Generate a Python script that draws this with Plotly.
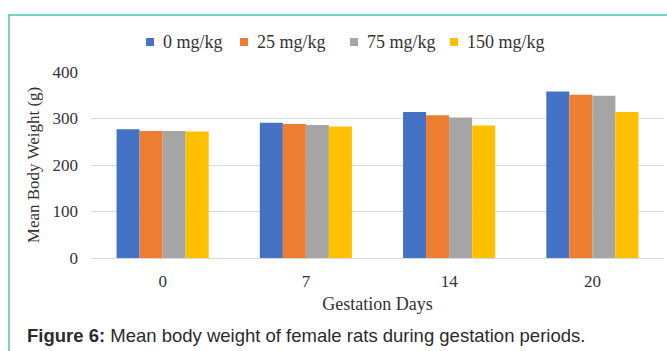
import plotly.graph_objects as go

# ---- data ----
days = ["0", "7", "14", "20"]
series_names = ["0 mg/kg", "25 mg/kg", "75 mg/kg", "150 mg/kg"]
dose_0 = [277, 291, 314, 358]
dose_25 = [273, 288, 307, 351]
dose_75 = [273, 286, 302, 349]
dose_150 = [272, 283, 285, 314]
y_ticks = [0, 100, 200, 300, 400]

colors = ["#4472C4", "#ED7D31", "#A5A5A5", "#FFC000"]
series_values = [dose_0, dose_25, dose_75, dose_150]

W, H = 667, 351
ML, MR, MT, MB = 91, 3, 72, 93
PW = W - ML - MR
PH = H - MT - MB


def px_x(x):
    return (x - ML) / PW


def px_y(y):
    return (H - MB - y) / PH


fig = go.Figure()
for name, vals, c in zip(series_names, series_values, colors):
    fig.add_trace(go.Bar(x=days, y=vals, name=name, showlegend=False,
                         marker=dict(color=c, line=dict(width=0))))

serif = "Liberation Serif, Times New Roman, serif"
txt = "#333333"

fig.update_layout(
    width=W, height=H,
    margin=dict(l=ML, r=MR, t=MT, b=MB),
    paper_bgcolor="white", plot_bgcolor="white",
    barmode="group", bargap=0.357, bargroupgap=0,
    font=dict(family=serif, size=17, color=txt),
    showlegend=False,
    xaxis=dict(type="category", showgrid=False, zeroline=False,
               showline=True, linecolor="#d9d9d9", linewidth=1,
               tickfont=dict(family=serif, size=17, color=txt),
               ticks="", ticklabelstandoff=8,
               title=dict(text="Gestation Days", font=dict(family=serif, size=18, color=txt), standoff=6)),
    yaxis=dict(range=[0, 400], tickvals=y_ticks, showgrid=True, gridcolor="#d9d9d9", gridwidth=1,
               zeroline=False, showline=False, ticks="", ticklabelstandoff=12,
               tickfont=dict(family=serif, size=17, color=txt),
               title=dict(text="Mean Body Weight (g)", font=dict(family=serif, size=17, color=txt), standoff=8)),
)

# custom legend (small squares + labels), laid out like the original
legend_text_x = [161, 255, 365, 465]
legend_y = 42
for name, c, tx in zip(series_names, colors, legend_text_x):
    fig.add_shape(type="rect", xref="paper", yref="paper",
                  x0=px_x(tx - 15), x1=px_x(tx - 7),
                  y0=px_y(legend_y + 4), y1=px_y(legend_y - 4),
                  line=dict(width=0), fillcolor=c, layer="above")
    fig.add_annotation(xref="paper", yref="paper", x=px_x(tx), y=px_y(legend_y),
                       xanchor="left", yanchor="middle", showarrow=False,
                       text=name, font=dict(family=serif, size=18, color=txt))

# frame border (teal)
fig.add_shape(type="rect", xref="paper", yref="paper",
              x0=px_x(9), x1=px_x(W + 20), y0=px_y(H + 20), y1=px_y(15),
              line=dict(color="#4CC2B5", width=1.5), fillcolor="rgba(0,0,0,0)", layer="above")

# caption
fig.add_annotation(xref="paper", yref="paper", x=px_x(25), y=px_y(335),
                   xanchor="left", yanchor="middle", showarrow=False,
                   text="<b>Figure 6:</b> Mean body weight of female rats during gestation periods.",
                   font=dict(family="Liberation Sans, Arial, sans-serif", size=18.5, color="#2b2b2b"))

fig.write_html("out.html")
